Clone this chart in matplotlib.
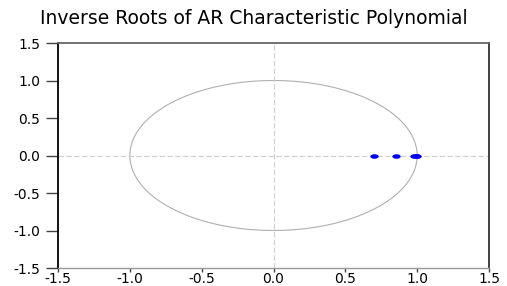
import matplotlib
matplotlib.use("Agg")
import matplotlib.pyplot as plt
import numpy as np
from matplotlib.path import Path

# inverse roots (real, imaginary)
root_re = [0.70, 0.85, 0.98, 0.99, 1.00]
root_im = [0.0, 0.0, 0.0, 0.0, 0.0]
ticks = [-1.5, -1.0, -0.5, 0.0, 0.5, 1.0, 1.5]
tick_labels = ['-1.5', '-1.0', '-0.5', '0.0', '0.5', '1.0', '1.5']

plt.rcParams['font.family'] = ['DejaVu Sans']

fig = plt.figure(figsize=(5.07, 2.86), dpi=100)
ax = fig.add_axes([58 / 507, 1 - 268 / 286, (489 - 58) / 507, (268 - 43) / 286])

# unit circle
t = np.linspace(0, 2 * np.pi, 400)
ax.plot(np.cos(t), np.sin(t), color='#b0b0b0', lw=0.8)

# zero reference lines
ax.axhline(0, color='#d0d0d0', lw=0.8, ls=(0, (5, 2)))
ax.axvline(0, color='#d0d0d0', lw=0.8, ls=(0, (5, 2)))

# elliptical dot marker (wider than tall, as in the original)
a = np.linspace(0, 2 * np.pi, 40)
ell = Path(np.column_stack([np.cos(a), 0.55 * np.sin(a)]))
ax.plot(root_re, root_im, ls='none', marker=ell, markersize=6,
        color='#0000ff', markeredgewidth=0)

ax.set_xlim(-1.5, 1.5)
ax.set_ylim(-1.5, 1.5)
ax.set_xticks(ticks)
ax.set_xticklabels(tick_labels)
ax.set_yticks(ticks)
ax.set_yticklabels(tick_labels)
ax.tick_params(axis='y', length=9, width=1.0, color='#444444', labelsize=10, pad=4)
ax.tick_params(axis='x', length=3, width=1.0, color='#444444', labelsize=10, pad=0)

ax.spines['left'].set_color('#000000')
ax.spines['left'].set_linewidth(1.3)
ax.spines['top'].set_color('#666666')
ax.spines['top'].set_linewidth(1.3)
ax.spines['right'].set_color('#333333')
ax.spines['right'].set_linewidth(1.3)
ax.spines['bottom'].set_color('#999999')
ax.spines['bottom'].set_linewidth(1.0)

fig.text(40 / 507, 1 - 19 / 286, 'Inverse Roots of AR Characteristic Polynomial',
         fontsize=13.5, ha='left', va='center')

fig.savefig('out.png', dpi=100)
